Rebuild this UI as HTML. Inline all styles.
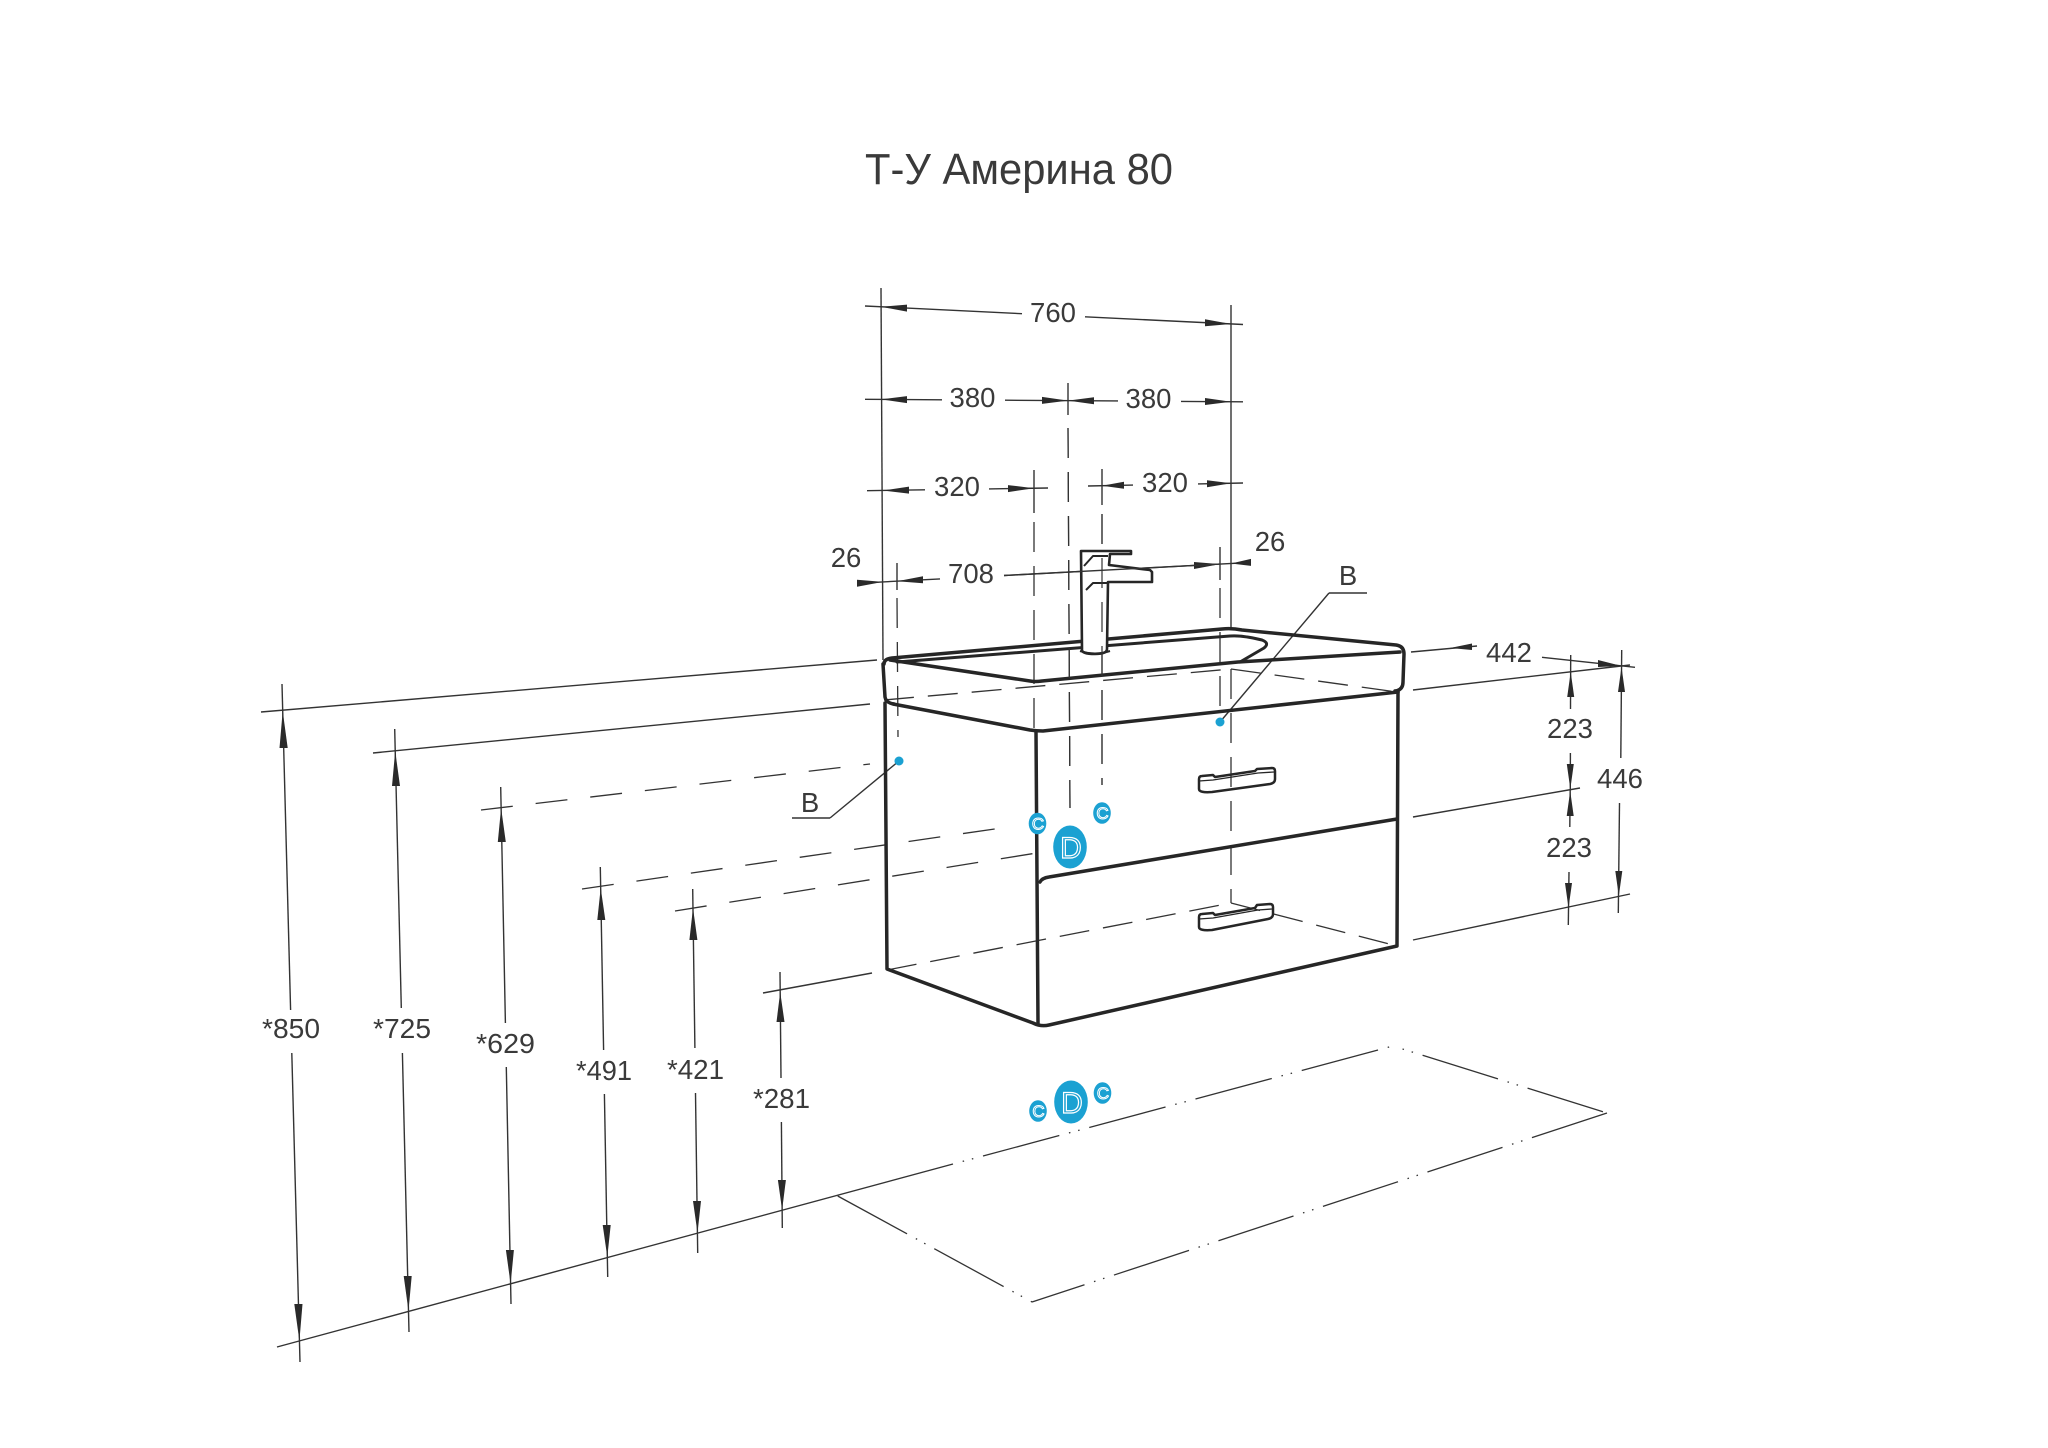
<!DOCTYPE html>
<html>
<head>
<meta charset="utf-8">
<style>
  html,body{margin:0;padding:0;background:#fff;}
  svg{display:block;}
  text{font-family:"Liberation Sans","DejaVu Sans",sans-serif;fill:#3a3a3a;}
</style>
</head>
<body>
<svg width="2048" height="1448" viewBox="0 0 2048 1448" xmlns="http://www.w3.org/2000/svg">
<rect width="2048" height="1448" fill="#fff"/>

<!-- Title -->
<text x="865" y="184" font-size="44" textLength="308" lengthAdjust="spacingAndGlyphs">Т-У Америна 80</text>

<!-- ===== thin solid lines (dimension / extension) ===== -->
<g stroke="#333" stroke-width="1.4" fill="none">
  <!-- top extension lines -->
  <line x1="881" y1="288" x2="883" y2="660"/>
  <line x1="1231" y1="305" x2="1231" y2="629"/>
  <!-- 760 -->
  <line x1="865" y1="306" x2="1022" y2="313.7"/>
  <line x1="1085" y1="316.8" x2="1243" y2="324.5"/>
  <!-- 380 -->
  <line x1="865" y1="399.3" x2="942" y2="399.8"/>
  <line x1="1005" y1="400.2" x2="1118" y2="400.9"/>
  <line x1="1181" y1="401.4" x2="1243" y2="401.8"/>
  <line x1="1068" y1="383" x2="1068" y2="415"/>
  <!-- 320 -->
  <line x1="867" y1="490.7" x2="925" y2="489.8"/>
  <line x1="989" y1="488.9" x2="1048" y2="488"/>
  <line x1="1034" y1="470" x2="1034" y2="513"/>
  <line x1="1088" y1="486" x2="1133" y2="485.1"/>
  <line x1="1198" y1="483.9" x2="1243" y2="483"/>
  <line x1="1102" y1="469" x2="1102" y2="505"/>
  <!-- 708 / 26 -->
  <line x1="857" y1="583.3" x2="940" y2="578.9"/>
  <line x1="1004" y1="575.5" x2="1251" y2="562.4"/>
  <line x1="897" y1="563" x2="897" y2="590"/>
  <line x1="1220" y1="547" x2="1220" y2="580"/>

  <!-- left wall lines -->
  <line x1="261" y1="712" x2="877" y2="660"/>
  <line x1="373" y1="753" x2="870" y2="704"/>
  <line x1="763" y1="993" x2="872" y2="973"/>
  <!-- floor solid -->
  <line x1="277" y1="1347" x2="953" y2="1164"/>

  <!-- vertical height dims -->
  <line x1="282" y1="684" x2="290.6" y2="1010"/>
  <line x1="291.8" y1="1053" x2="300" y2="1362"/>
  <line x1="394.7" y1="729" x2="401.3" y2="1008"/>
  <line x1="402.4" y1="1053" x2="409" y2="1332"/>
  <line x1="500.7" y1="787" x2="505.4" y2="1023"/>
  <line x1="506.3" y1="1067" x2="511" y2="1304"/>
  <line x1="600.3" y1="867" x2="603.6" y2="1050"/>
  <line x1="604.4" y1="1094" x2="607.7" y2="1277"/>
  <line x1="692.7" y1="889" x2="694.9" y2="1048"/>
  <line x1="695.5" y1="1093" x2="697.7" y2="1253"/>
  <line x1="780" y1="972" x2="781" y2="1078"/>
  <line x1="781.4" y1="1122" x2="782.3" y2="1228"/>

  <!-- right side dims -->
  <line x1="1411" y1="652" x2="1477" y2="646"/>
  <line x1="1542" y1="657.3" x2="1635" y2="667.3"/>
  <line x1="1413" y1="690" x2="1630" y2="665"/>
  <line x1="1413" y1="817" x2="1580" y2="788"/>
  <line x1="1413" y1="940" x2="1630" y2="894"/>
  <line x1="1570.7" y1="655" x2="1570.5" y2="709"/>
  <line x1="1570.4" y1="753" x2="1570.3" y2="790"/>
  <line x1="1570.2" y1="790" x2="1569.8" y2="827"/>
  <line x1="1569" y1="872" x2="1568.3" y2="925"/>
  <line x1="1621.7" y1="650" x2="1620.8" y2="758"/>
  <line x1="1619.5" y1="803" x2="1618.3" y2="913"/>

  <!-- B leaders -->
  <line x1="792" y1="818" x2="830" y2="818"/>
  <line x1="830" y1="818" x2="899" y2="761"/>
  <line x1="1329" y1="593" x2="1367" y2="593"/>
  <line x1="1329" y1="593" x2="1220" y2="722"/>
</g>

<!-- ===== dashed lines ===== -->
<g stroke="#333" stroke-width="1.3" fill="none" stroke-dasharray="32 23">
  <line x1="481" y1="810" x2="870" y2="764"/>
  <line x1="582" y1="889" x2="1015" y2="826"/>
  <line x1="675" y1="911" x2="1043" y2="852"/>
</g>
<g stroke="#333" stroke-width="1.3" fill="none" stroke-dasharray="30 14">
  <line x1="1034" y1="522" x2="1034" y2="730"/>
  <line x1="1102" y1="514" x2="1102" y2="785"/>
  <line x1="897" y1="598" x2="898" y2="737"/>
  <line x1="1220" y1="588" x2="1220" y2="716"/>
  <line x1="1068" y1="428" x2="1070" y2="808"/>
  <!-- hidden edges -->
  <line x1="884" y1="700" x2="1231" y2="669"/>
  <line x1="1231" y1="669" x2="1397" y2="692"/>
  <line x1="1231" y1="669" x2="1231" y2="903"/>
  <line x1="887" y1="970" x2="1231" y2="903"/>
  <line x1="1231" y1="903" x2="1397" y2="946"/>
</g>

<!-- ===== floor rectangle, dash-dot ===== -->
<g stroke="#333" stroke-width="1.3" fill="none" stroke-dasharray="79 10 1.5 8 1.5 10">
  <line x1="983" y1="1156" x2="1393" y2="1046" />
  <line x1="953" y1="1164" x2="983" y2="1156" stroke-dasharray="0 10 1.5 8 1.5 10"/>
  <line x1="1393" y1="1046" x2="1607" y2="1113" stroke-dashoffset="79"/>
  <line x1="1607" y1="1113" x2="1032" y2="1302"/>
  <line x1="837.7" y1="1196" x2="1032" y2="1302"/>
</g>

<!-- ===== arrowheads ===== -->
<g fill="#2a2a2a" stroke="none">
  <!-- 760 -->
  <polygon points="881,306.8 907,304.6 907,311.6"/>
  <polygon points="1231,324 1205,319.3 1205,326.3"/>
  <!-- 380 -->
  <polygon points="881,399.4 907,396.1 907,403.1"/>
  <polygon points="1068,400.6 1042,396.9 1042,403.9"/>
  <polygon points="1068,400.6 1094,397.3 1094,404.3"/>
  <polygon points="1231,401.7 1205,398 1205,405"/>
  <!-- 320 -->
  <polygon points="883,490.5 909,486.6 909,493.6"/>
  <polygon points="1034,488.2 1008,485.1 1008,492.1"/>
  <polygon points="1102,485.7 1124,481.8 1124,488.8"/>
  <polygon points="1231,483.2 1207,480.2 1207,487.2"/>
  <!-- 708 / 26 -->
  <polygon points="883,581.9 857,579.8 857,586.8"/>
  <polygon points="897,581.2 923,576.3 923,583.3"/>
  <polygon points="1220,564.1 1194,562 1194,569"/>
  <polygon points="1231,563.5 1251,558.9 1251,565.9"/>
  <!-- 442 -->
  <polygon points="1450,648 1472,643.5 1472,650"/>
  <polygon points="1621.7,666 1598,660 1598,667"/>
  <!-- 223 / 446 -->
  <polygon points="1570.7,672 1567.2,697 1574.2,697"/>
  <polygon points="1570.3,789 1566.8,764 1573.8,764"/>
  <polygon points="1570.2,791 1566.7,816 1573.7,816"/>
  <polygon points="1568.5,908 1565,883 1572,883"/>
  <polygon points="1621.5,667 1618,692 1625,692"/>
  <polygon points="1618.8,896 1615.3,871 1622.3,871"/>
  <!-- left heights -->
  <polygon points="282.7,711 279.5,748 287.7,748"/>
  <polygon points="299.4,1341 294.3,1304 302.5,1304"/>
  <polygon points="395.2,751 392,786 400,786"/>
  <polygon points="408.5,1311 403.7,1276 411.7,1276"/>
  <polygon points="501.1,808 497.8,842 505.8,842"/>
  <polygon points="510.6,1284 505.9,1250 513.9,1250"/>
  <polygon points="600.7,888 597.3,920 605.3,920"/>
  <polygon points="607.3,1257 602.7,1225 610.7,1225"/>
  <polygon points="693,908 689.4,940 697.4,940"/>
  <polygon points="697.5,1233 693,1201 701,1201"/>
  <polygon points="780.2,992 776.5,1022 784.5,1022"/>
  <polygon points="782.1,1210 777.9,1180 785.9,1180"/>
</g>

<!-- ===== basin ===== -->
<g stroke="#262626" stroke-width="3.5" fill="none" stroke-linecap="round" stroke-linejoin="round">
  <path d="M884,664 Q884,659 892,658 L1222,629 Q1232,628 1242,630 L1396,645 Q1404,646 1404,654 L1403,682 Q1403,690 1395,691"/>
  <path d="M883,664 L885,697 Q886,703 894,704"/>
  <path d="M890,660 L1030,681 Q1035,682 1042,681 L1238,662 L1400,652"/>
  <path d="M897,662 L1230,636 Q1242,635 1262,640 Q1270,643 1264,648 L1240,662" stroke-width="3"/>
</g>

<!-- faucet -->
<g stroke="#262626" stroke-width="2.6" fill="#fff" stroke-linejoin="round">
  <path d="M1081,551 L1131,551 L1131,554 L1110,554 L1109,565 L1150,570 L1152,572 L1152,582 L1108,582 L1107,649 Q1107,654 1095,654 Q1081,654 1082,649 Z"/>
  <path d="M1084,566 L1093,556 L1108,556" fill="none" stroke-width="2"/>
  <path d="M1086,590 L1093,583 L1107,583" fill="none" stroke-width="2"/>
  <path d="M1080,651 Q1095,656 1110,651" fill="none" stroke-width="2"/>
</g>
<!-- lines passing through faucet -->
<g stroke="#333" stroke-width="1.2" fill="none" stroke-dasharray="30 14">
  <line x1="1068" y1="428" x2="1070" y2="808"/>
  <line x1="1102" y1="514" x2="1102" y2="785"/>
</g>
<line x1="1004" y1="575.5" x2="1220" y2="564.1" stroke="#333" stroke-width="1.4"/>

<!-- ===== cabinet ===== -->
<g stroke="#262626" stroke-width="3.5" fill="none" stroke-linecap="round" stroke-linejoin="round">
  <path d="M885,703 L887,969 L1033,1023 Q1041,1027 1049,1025 L1397,946 L1398,692"/>
  <path d="M893,704 L1030,730 Q1036,731 1043,731 L1398,692"/>
  <path d="M1036,732 L1038,1023"/>
  <path d="M1040,882 Q1042,878 1049,877 L1397,819"/>
</g>

<!-- handles -->
<g stroke="#262626" stroke-width="2.5" fill="none" stroke-linejoin="round">
  <path d="M1199,779 Q1199,776 1202,776 L1213,775 L1215,777 L1255,771 L1257,769 L1272,768 Q1275,768 1275,771 L1275,779 Q1275,783 1270,784 L1212,792 Q1199,793 1199,789 Z"/>
  <path d="M1199,781 L1213,780 L1258,773 L1274,772" stroke-width="1.3"/>
  <path d="M1199,917 Q1199,914 1202,914 L1213,913 L1215,915 L1255,908 L1257,905 L1270,904 Q1273,904 1273,907 L1273,914 Q1273,918 1268,919 L1212,930 Q1199,931 1199,927 Z"/>
  <path d="M1199,919 L1213,918 L1258,910 L1272,909" stroke-width="1.3"/>
</g>

<!-- ===== blue markers ===== -->
<g fill="#1ba1d2">
  <circle cx="899" cy="761" r="4.5"/>
  <circle cx="1220" cy="722" r="4.5"/>
  <ellipse cx="1037.5" cy="823.5" rx="8.8" ry="10.8"/>
  <ellipse cx="1102" cy="813" rx="8.8" ry="10.8"/>
  <ellipse cx="1070" cy="847" rx="16.8" ry="21.5"/>
  <ellipse cx="1038" cy="1111" rx="8.8" ry="10.8"/>
  <ellipse cx="1071" cy="1102" rx="16.8" ry="21.5"/>
  <ellipse cx="1102.5" cy="1093" rx="8.8" ry="10.8"/>
</g>
<g font-size="17" text-anchor="middle" style="fill:none;stroke:#fff;stroke-width:1">
  <text x="1038" y="829.5" style="fill:none;stroke:#fff;stroke-width:1">C</text>
  <text x="1102.5" y="819" style="fill:none;stroke:#fff;stroke-width:1">C</text>
  <text x="1038.5" y="1117" style="fill:none;stroke:#fff;stroke-width:1">C</text>
  <text x="1103" y="1099" style="fill:none;stroke:#fff;stroke-width:1">C</text>
</g>
<g font-size="30" text-anchor="middle">
  <text x="1071" y="858" style="fill:none;stroke:#fff;stroke-width:1.2">D</text>
  <text x="1072" y="1113" style="fill:none;stroke:#fff;stroke-width:1.2">D</text>
</g>

<!-- ===== dimension text ===== -->
<g font-size="27.5" text-anchor="middle">
  <text x="1053" y="322">760</text>
  <text x="972.5" y="407">380</text>
  <text x="1148.5" y="408">380</text>
  <text x="957" y="496">320</text>
  <text x="1165" y="492">320</text>
  <text x="971" y="583">708</text>
  <text x="846" y="567">26</text>
  <text x="1270" y="551">26</text>
  <text x="1348" y="585">B</text>
  <text x="810" y="812">B</text>
  <text x="1509" y="662">442</text>
  <text x="1570" y="738">223</text>
  <text x="1620" y="788">446</text>
  <text x="1569" y="857">223</text>
</g>
<g font-size="27.5">
  <text x="262" y="1038" textLength="58" lengthAdjust="spacingAndGlyphs">*850</text>
  <text x="373" y="1038" textLength="58" lengthAdjust="spacingAndGlyphs">*725</text>
  <text x="476" y="1053" textLength="59" lengthAdjust="spacingAndGlyphs">*629</text>
  <text x="576" y="1080" textLength="56" lengthAdjust="spacingAndGlyphs">*491</text>
  <text x="667" y="1079" textLength="57" lengthAdjust="spacingAndGlyphs">*421</text>
  <text x="753" y="1108" textLength="57" lengthAdjust="spacingAndGlyphs">*281</text>
</g>
</svg>
</body>
</html>
